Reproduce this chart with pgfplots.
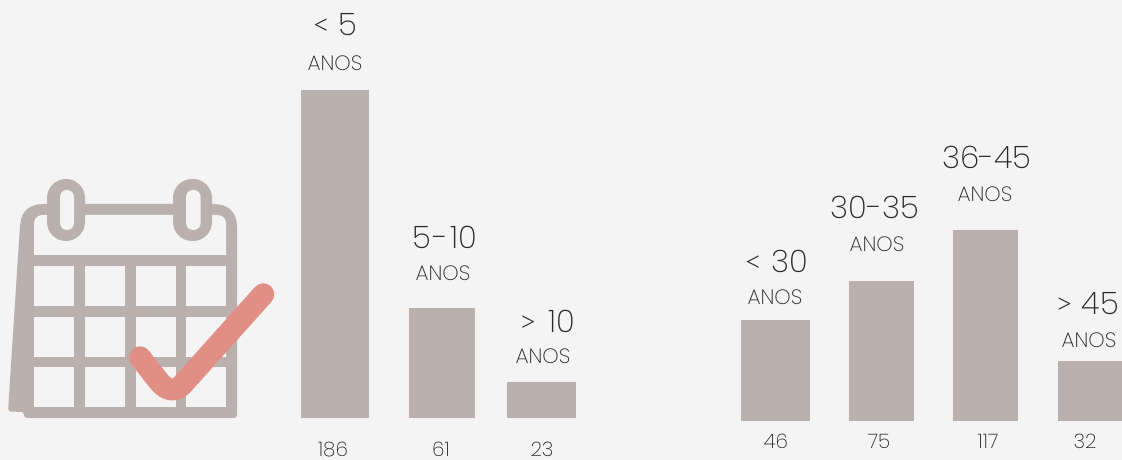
\documentclass[border=0pt]{standalone}
\usepackage{pgfplots}
\pgfplotsset{compat=1.18}
\usepackage{fontspec}
\setmainfont[UprightFont=* ExtraLight]{Poppins}
\newfontfamily\symfont[UprightFont=* Light]{Lato}
\definecolor{bg}{HTML}{F4F4F4}
\definecolor{barc}{HTML}{BAB1AE}
\definecolor{chk}{HTML}{E18E84}
\definecolor{txt}{HTML}{2A2A2A}
\pgfplotsset{
  pic axis/.style={
    scale only axis, width=1122pt, height=460pt,
    xmin=0, xmax=1122,
    hide axis,
    ybar, bar shift=0pt,
  },
  bara/.style={fill=barc, draw=none, bar width=#1pt},
}
% big label, small label, number: x, baseline in image pixels (y down)
\newcommand{\biglab}[3]{\node[anchor=base,font=\fontsize{31}{31}\selectfont,text=txt,inner sep=0pt] at (#1,#2) {#3};}
\newcommand{\ano}[2]{\node[anchor=base,font=\fontsize{20.8}{21}\selectfont,text=txt,inner sep=0pt] at (#1,#2) {ANOS};}
\newcommand{\numlab}[3]{\node[anchor=base,font=\fontsize{20}{20}\selectfont,text=txt,inner sep=0pt] at (#1,#2) {#3};}
\newcommand{\lt}{{\symfont <}}
\newcommand{\gt}{{\symfont >}}
\begin{document}
\begin{tikzpicture}
\fill[bg] (0,0) rectangle (1122pt,460pt);
\path[use as bounding box] (0,0) rectangle (1122pt,460pt);

% tenure bars, zero at y=418 px
\begin{axis}[pic axis, ymin=-42, ymax=418]
\addplot[bara=68] coordinates {(335,328)};
\addplot[bara=65.5] coordinates {(441.75,110)};
\addplot[bara=69] coordinates {(541.5,36)};
\end{axis}

% age bars, zero at y=421 px
\begin{axis}[pic axis, ymin=-39, ymax=421]
\addplot[bara=69] coordinates {(775.5,101)};
\addplot[bara=65] coordinates {(881.5,140)};
\addplot[bara=65] coordinates {(985.5,191)};
\addplot[bara=70] coordinates {(1093,60)};
\end{axis}

\begin{scope}[shift={(0,460pt)},x=1pt,y=-1pt]
% calendar icon
\fill[barc, rounded corners=3pt] (8,411.5) -- (20,225) -- (24,204) -- (237,204) -- (237,418) -- (24,418) -- (24,412) -- cycle;
\fill[bg] (18,200) -- (18,224) -- (20,224) .. controls (21,211) and (30,204) .. (42,204) -- (42,200) -- cycle;
\fill[bg] (214,204) .. controls (228,204) and (237,212) .. (237,226) -- (241,226) -- (241,200) -- (214,200) -- cycle;
\fill[bg] (34,255) -- (34,223) .. controls (34,218) and (38,215) .. (43,215) -- (217,215) .. controls (222,215) and (226,218) .. (226,223) -- (226,255) -- cycle;
\foreach \ya/\yb in {266.3/306,317/356.7,367.3/407.3}
  \foreach \xa/\xb in {34/74,85/125,135.7/175.7,186.3/226}
    \fill[bg] (\xa,\ya) rectangle (\xb,\yb);
\fill[barc, rounded corners=19pt] (47,179) rectangle (85,241);
\fill[bg, rounded corners=7pt] (60,190) rectangle (74,230);
\fill[barc, rounded corners=19pt] (173,179) rectangle (212,241);
\fill[bg, rounded corners=7pt] (186,190) rectangle (200.7,230);
\draw[chk, line width=22pt, line cap=round, line join=round]
  (140,357.3) -- (157,379) .. controls (165,390) and (174,393) .. (182,385) -- (263.3,294.3);

% labels
\biglab{335}{36}{\lt{} 5}       \ano{335}{71}
\biglab{445}{249}{5\hspace{2pt}-\hspace{2pt}10}     \ano{443}{281}
\biglab{547}{333}{\gt{}\hspace{3pt} 10}     \ano{543}{364}
\biglab{776}{273}{\lt{} 30}     \ano{775}{305}
\biglab{875}{219}{30-35}    \ano{877}{252}
\biglab{987}{169}{36-45}    \ano{985}{202}
\biglab{1087}{315}{\gt{} 45}    \ano{1089}{348}
\numlab{333}{456.5}{186} \numlab{441}{456.5}{61} \numlab{542}{456.5}{23}
\numlab{776}{448.5}{46} \numlab{879}{448.5}{75} \numlab{988}{448.5}{117} \numlab{1085}{448.5}{32}
\end{scope}
\end{tikzpicture}
\end{document}
